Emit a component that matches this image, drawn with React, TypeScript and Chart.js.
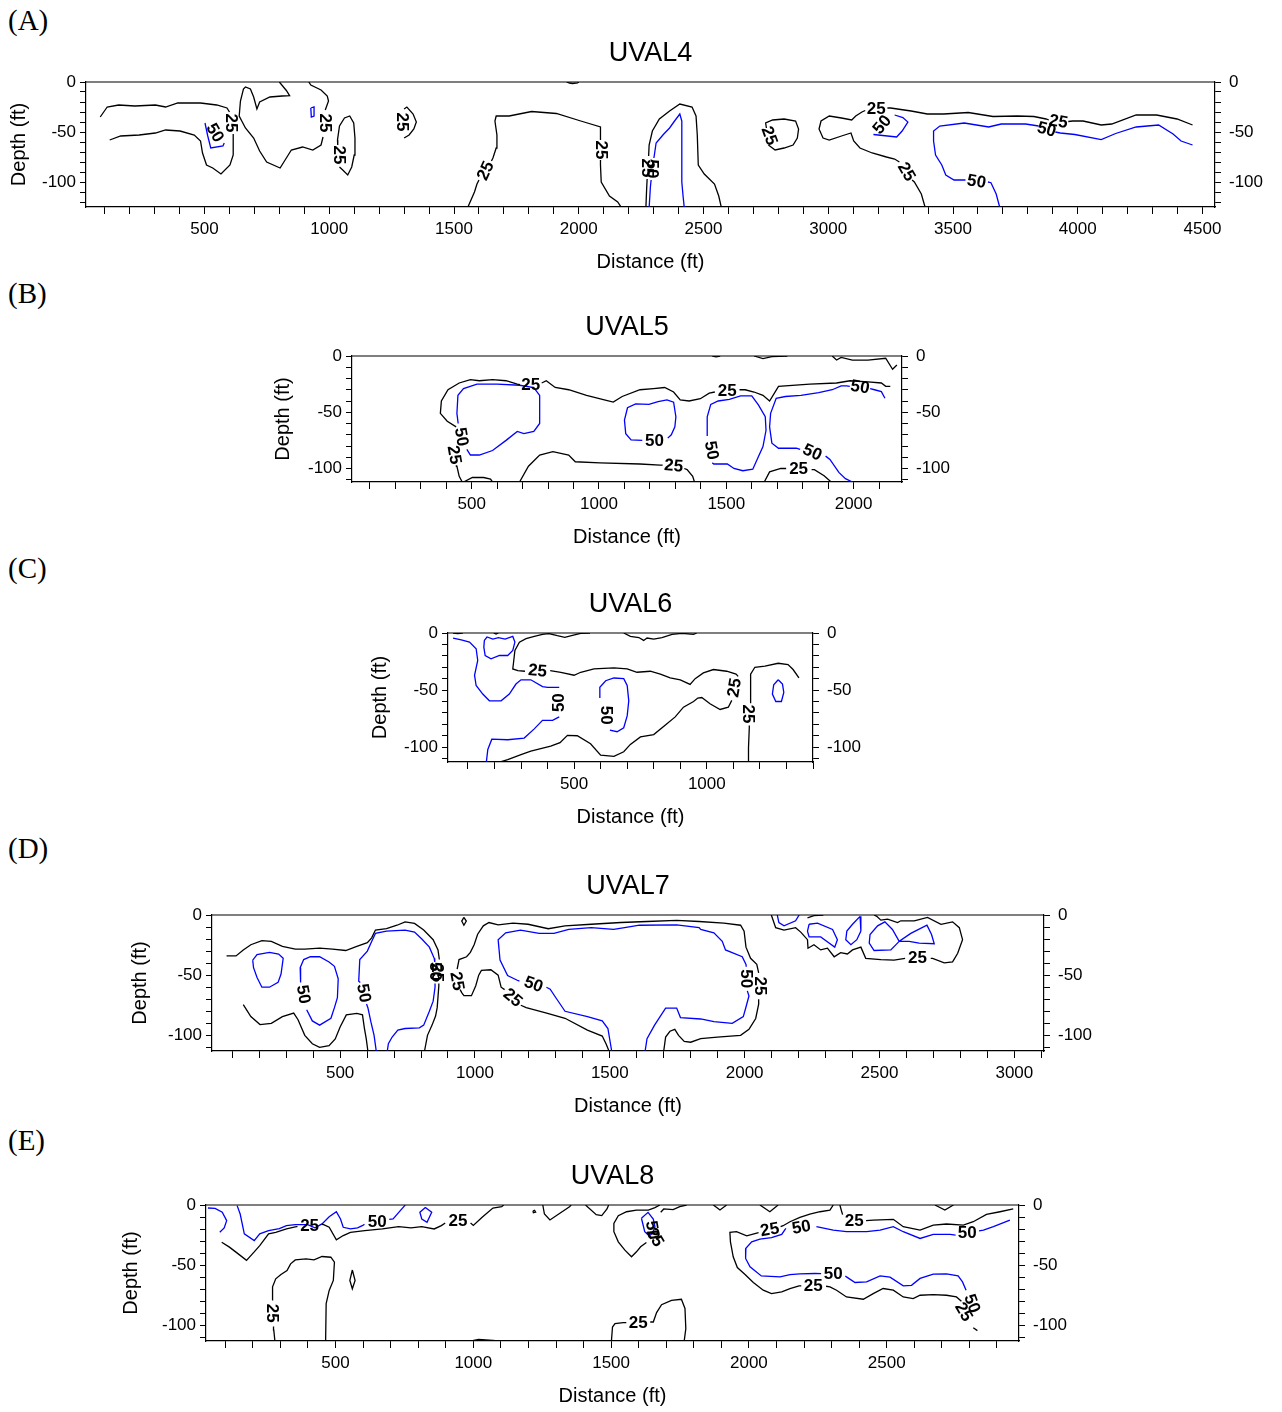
import React, { useEffect, useRef } from 'react';
import { Chart, registerables } from 'chart.js';
Chart.register(...registerables);

type Pt = [number, number];
type Lbl = [number, number, string, number];

// ---------------- Panel A : UVAL4 ----------------
const A_xLabels = [500, 1000, 1500, 2000, 2500, 3000, 3500, 4000, 4500];
const A_c25: Pt[][] = [
  [[82,-35],[110,-25],[156,-23],[221,-24],[303,-23],[344,-25],[393,-21],[484,-21],[549,-23],[590,-26],[600,-30]],
  [[615,-52],[615,-73],[602,-83],[566,-92],[533,-86],[508,-83],[492,-71],[484,-59],[459,-53],[402,-49],[344,-48],[303,-51],[238,-53],[164,-54],[120,-58]],
  [[800,0],[828,-8.5],[841,-13.6],[811,-14],[762,-15],[721,-20],[710,-27],[697,-15],[684,-7],[664,-5],[656,-7],[644,-19],[639,-34],[664,-46],[697,-56],[721,-69],[749,-80],[803,-86],[828,-76],[848,-68],[893,-65],[934,-68],[967,-63],[975,-55]],
  [[984,-28],[997,-19],[992,-14],[967,-8],[926,-3],[918,0]],
  [[1041,-85],[1054,-88],[1074,-93],[1090,-85],[1100,-73],[1103,-56],[1098,-41],[1082,-34],[1061,-36],[1041,-44],[1033,-58],[1034,-63]],
  [[1300,-27],[1311,-25],[1336,-32],[1349,-40],[1339,-47],[1320,-53],[1300,-56]],
  [[1951,0],[1963,-1],[1975,-1.5],[1995,-0.8],[2000,0]],
  [[1554,-126],[1582,-110],[1592,-102],[1600,-98]],
  [[1650,-79],[1656,-76],[1669,-66],[1672,-53],[1664,-39],[1669,-34],[1721,-34],[1811,-29.5],[1910,-31.5],[2008,-39],[2087,-45],[2087,-58]],
  [[2087,-78],[2087,-83],[2090,-100],[2123,-114],[2156,-120],[2172,-126]],
  [[2269,-126],[2272,-107],[2274,-97]],
  [[2280,-74],[2282,-63],[2295,-49],[2323,-37],[2364,-29],[2405,-22],[2454,-25],[2470,-34],[2475,-53],[2479,-83],[2503,-92],[2544,-102],[2561,-114],[2572,-126]],
  [[2760,-63],[2787,-68],[2823,-66],[2859,-63],[2876,-56],[2881,-47],[2869,-39],[2823,-37],[2777,-38],[2749,-41],[2752,-46]],
  [[4460,-43],[4398,-37],[4316,-33],[4234,-33],[4136,-42],[4094,-43],[4021,-39],[3980,-39],[3962,-39.5]],
  [[3884,-38],[3873,-37],[3824,-34.5],[3758,-34],[3660,-34.5],[3561,-30.5],[3463,-32],[3397,-32],[3332,-29],[3250,-26],[3237,-26]],
  [[3148,-28.5],[3135,-30],[3110,-34],[3094,-38],[3053,-36],[3004,-34],[2971,-39],[2963,-47],[2979,-56],[3004,-58],[3053,-54],[3091,-51],[3102,-59],[3127,-66],[3176,-71],[3233,-75],[3266,-77],[3285,-80]],
  [[3336,-98],[3345,-100],[3373,-112],[3389,-126]],
];
const A_c50: Pt[][] = [
  [[502,-41],[513,-54],[525,-66],[574,-64],[579,-61]],
  [[926,-26],[939,-25],[939,-34],[928,-35],[926,-26]],
  [[2282,-126],[2287,-105],[2290,-98]],
  [[2301,-76],[2303,-73],[2310,-61],[2339,-52.5],[2364,-46],[2384,-39],[2405,-32],[2413,-39],[2413,-69],[2413,-100],[2418,-114],[2423,-126]],
  [[3181,-52.5],[3274,-55],[3296,-49],[3319,-40],[3299,-35.6],[3266,-33]],
  [[3688,-126],[3673,-112],[3652,-100.7],[3640,-100]],
  [[3550,-98],[3504,-98],[3471,-93],[3455,-83],[3430,-73],[3422,-59],[3422,-49],[3447,-44],[3545,-41],[3643,-45],[3693,-42],[3791,-42],[3843,-44]],
  [[3910,-50],[3930,-51],[3988,-52.5],[4094,-57.6],[4152,-51.5],[4234,-45],[4324,-43],[4382,-52],[4414,-59],[4460,-63]],
];
const A_labels: Lbl[] = [
  [606,-41,'25',90],[540,-51,'50',60],[980,-41,'25',90],[1038,-73,'25',90],[1292,-40,'25',90],
  [1628,-89,'25',-65],[2087,-68,'25',90],[2274,-86,'25',90],[2292,-87,'50',90],[2762,-54,'25',70],
  [3922,-40,'25',10],[3192,-27,'25',0],[3217,-43,'50',-50],[3312,-90,'25',60],[3594,-100,'50',10],[3875,-48,'50',15],
];

// ---------------- Panel B : UVAL5 ----------------
const B_xLabels = [500, 1000, 1500, 2000];
const B_c25: Pt[][] = [
  [[1445,0],[1460,-0.8],[1476,0]],
  [[1609,0],[1644,-2.4],[1679,-0.6],[1740,0]],
  [[1916,0],[1933,-3.6],[1951,-1.2],[1995,-3.6],[2056,-3.6],[2126,-2],[2153,-11.8],[2170,-8]],
  [[463,-112],[451,-107],[442,-98],[440,-97]],
  [[439,-63],[404,-58],[377,-51],[381,-40],[407,-30],[451,-24],[495,-21],[530,-22],[582,-21],[635,-22],[679,-25],[690,-25.5]],
  [[775,-24],[793,-22],[828,-28],[881,-30],[951,-35],[1021,-39],[1056,-41],[1091,-36],[1161,-30],[1214,-29],[1258,-28],[1293,-32],[1319,-39],[1354,-40],[1398,-38],[1433,-33],[1455,-32]],
  [[1552,-30],[1574,-30],[1609,-32],[1644,-35],[1670,-40],[1705,-27],[1828,-25],[1933,-24],[1986,-22],[2056,-23],[2109,-24],[2126,-27],[2144,-27]],
  [[468,-112],[503,-108],[547,-108],[574,-109.5],[582,-112]],
  [[688,-112],[723,-98],[767,-88],[819,-85],[881,-88],[907,-94],[1004,-95],[1161,-96],[1240,-97],[1250,-97]],
  [[1335,-100],[1346,-101],[1368,-107],[1375,-112]],
  [[1649,-112],[1670,-103],[1714,-100],[1735,-100]],
  [[1835,-101],[1846,-101],[1884,-106.5],[1912,-112]],
];
const B_c50: Pt[][] = [
  [[447,-60],[442,-51],[446,-35],[468,-29],[521,-25],[600,-25],[688,-26],[744,-28],[767,-35],[767,-60],[744,-67],[705,-69],[679,-67],[635,-75],[582,-84],[530,-88],[495,-88],[481,-83]],
  [[1170,-75],[1126,-74.5],[1105,-69],[1100,-57],[1112,-46],[1144,-42.6],[1196,-43],[1232,-40.5],[1267,-39],[1293,-41],[1302,-54],[1298,-63],[1284,-70],[1270,-73]],
  [[1425,-71],[1425,-54],[1439,-43],[1468,-40],[1512,-38.5],[1556,-35.5],[1600,-35.5],[1626,-43.5],[1653,-54],[1656,-66],[1644,-80.5],[1621,-92],[1604,-100.6],[1565,-102],[1530,-100],[1504,-96],[1451,-96],[1445,-95]],
  [[1995,-112],[1968,-109],[1942,-103.5],[1907,-92],[1890,-89]],
  [[1790,-83],[1775,-82],[1705,-82],[1679,-77.5],[1670,-63],[1674,-51],[1696,-37.6],[1732,-36],[1793,-35],[1863,-32.5],[1916,-30],[1951,-26.6],[1972,-26.6],[1985,-27]],
  [[2065,-29],[2082,-30],[2109,-31.7],[2123,-37.6]],
];
const B_labels: Lbl[] = [
  [430,-88,'25',80],[458,-72,'50',80],[732,-26,'25',0],[1504,-31,'25',0],[1293,-98,'25',5],
  [1784,-101,'25',0],[1218,-76,'50',0],[1440,-84,'50',80],[1837,-86,'50',25],[2025,-28,'50',10],
];

// ---------------- Panel C : UVAL6 ----------------
const C_xLabels = [500, 1000];
const C_c25: Pt[][] = [
  [[44,0],[62,-0.6],[81,0]],
  [[197,0],[206,-0.9],[215,0]],
  [[560,0],[525,-0.3],[494,-2],[465,-3.8],[437,-2.4],[405,-0.5],[381,-1.2],[350,-3],[319,-5],[294,-8],[277,-15.3],[272,-25.6],[269,-31.5],[288,-33],[315,-33.5]],
  [[410,-33],[450,-34.4],[500,-37],[525,-34.4],[575,-31.5],[650,-30.6],[700,-31.5],[737,-34.4],[787,-33.5],[825,-36],[862,-39.4],[900,-41],[937,-45],[956,-40],[987,-35],[1025,-32],[1075,-33.5],[1110,-36],[1118,-38]],
  [[1094,-59],[1081,-65],[1050,-67],[1012,-62],[981,-56.5],[966,-57],[950,-60],[912,-65],[881,-73.5],[844,-80.6],[800,-89],[750,-91],[712,-97.6],[687,-104],[650,-108],[600,-107],[562,-97],[512,-90],[475,-89.7],[447,-96],[412,-99],[337,-103.5],[300,-106.5],[250,-111],[206,-114]],
  [[687,0],[712,-3],[744,-4],[762,-6.5],[775,-4.4],[800,-5.3],[831,-4],[869,-1.2],[906,-0.3],[950,-1.2],[962,0]],
  [[1156,-114],[1157,-100.6],[1160,-83],[1160,-81]],
  [[1163,-61],[1165,-59],[1165,-36],[1181,-30],[1219,-29],[1269,-26.5],[1306,-27.6],[1325,-32],[1347,-39.4]],
];
const C_c50: Pt[][] = [
  [[44,-4.4],[75,-6],[106,-8],[131,-13.8],[137,-24],[125,-37],[131,-46],[156,-53.5],[181,-59.4],[225,-59.4],[256,-53.5],[281,-44.7],[300,-41],[337,-41],[381,-47],[400,-47.6],[444,-47.6]],
  [[162,-6.5],[172,-3.5],[194,-5.3],[215,-4],[240,-5.3],[269,-3],[277,-8],[269,-15.3],[250,-19.7],[219,-19.7],[187,-22.6],[165,-19.7],[160,-12.4],[162,-6.5]],
  [[169,-114],[175,-102],[190,-93],[250,-93.5],[312,-92],[350,-84],[381,-76.5],[419,-76.5],[444,-73.5]],
  [[635,-85],[662,-86.5],[687,-83],[700,-72.6],[706,-59.4],[700,-46],[687,-40],[650,-39.4],[619,-41.8],[597,-47.6],[597,-57]],
  [[1269,-41],[1285,-44.7],[1290,-52],[1281,-60],[1260,-60],[1247,-53.5],[1252,-45.3],[1269,-41]],
];
const C_labels: Lbl[] = [
  [362,-33.5,'25',5],[1106,-48,'25',-80],[1154,-71,'25',90],[446,-61,'50',-90],[619,-72,'50',90],
];

// ---------------- Panel D : UVAL7 ----------------
const D_xLabels = [500, 1000, 1500, 2000, 2500, 3000];
const D_c25: Pt[][] = [
  [[79,-34],[114,-34],[141,-29],[169,-24.7],[210,-21.3],[245,-21.9],[286,-26],[334,-28.4],[369,-28.4],[424,-27.6],[472,-28.4],[521,-29.5],[562,-26],[601,-23],[617,-19],[631,-12.5],[672,-11.4],[711,-8.5],[741,-5.7],[776,-7],[810,-12.5],[845,-20.5],[863,-29],[868,-37]],
  [[866,-57],[866,-59],[860,-77],[854,-84],[841,-91.5],[824,-100],[813,-113]],
  [[141,-74.4],[169,-84.4],[203,-91],[245,-90],[286,-84.4],[328,-81.5],[344,-87],[369,-100],[397,-107],[424,-110],[459,-108.5],[482,-103],[500,-93],[523,-83],[562,-81.8],[583,-83],[590,-94],[597,-103],[603,-113]],
  [[959,-2],[968,-5.1],[959,-8.5],[951,-5.1],[959,-2]],
  [[1497,-113],[1486,-107],[1472,-100.6],[1417,-95.7],[1334,-85.8],[1266,-81.5],[1190,-77],[1170,-75]],
  [[1110,-62],[1097,-60],[1086,-50],[1059,-45.5],[1024,-46],[1014,-50],[1003,-58.8],[987,-67],[959,-67],[951,-64.5],[945,-62]],
  [[934,-45],[941,-37],[969,-34.7],[983,-31],[997,-24.7],[1010,-16],[1031,-9],[1052,-6.25],[1086,-8.2],[1141,-6.8],[1197,-7.7],[1272,-11.4],[1334,-9],[1431,-7.7],[1541,-6.25],[1638,-5.4],[1748,-4.5],[1831,-5.4],[1923,-6.8],[1985,-8.5],[1998,-13.4],[2005,-26.7],[2022,-36],[2045,-41],[2052,-48]],
  [[2052,-70],[2052,-74],[2041,-86],[2016,-95],[1985,-100],[1948,-100.6],[1899,-101.4],[1837,-102.8],[1800,-105.7],[1776,-105],[1755,-100],[1741,-95],[1723,-96.6],[1707,-101.4],[1700,-113]],
  [[2099,0],[2115,-10.5],[2146,-12.5],[2189,-10.5],[2208,-14.2],[2233,-20.5],[2235,-27.6],[2257,-24.7],[2282,-29],[2307,-27.6],[2332,-34.7],[2356,-31.25],[2381,-32.4],[2400,-29],[2431,-26.7],[2449,-36],[2505,-37],[2554,-37.5],[2595,-36]],
  [[2690,-36],[2697,-36],[2740,-39.8],[2771,-39],[2790,-31.8],[2808,-20.5],[2796,-10.5],[2771,-5.7],[2728,-7.7],[2678,-2],[2629,-4.8],[2579,-4.8],[2567,-6.25],[2530,-3.4],[2505,-4.3],[2490,-1.1],[2480,0]],
  [[2233,-2.3],[2257,-0.6],[2292,0]],
];
const D_c50: Pt[][] = [
  [[176,-37.5],[192,-33],[238,-31],[272,-32.4],[289,-36],[281,-49],[270,-56],[238,-60],[210,-60],[192,-52],[179,-43.8],[176,-37.5]],
  [[376,-78.7],[397,-88],[424,-91.5],[466,-85.8],[479,-77],[490,-68.75],[493,-53],[479,-42.6],[459,-39],[424,-34.7],[390,-34.7],[365,-37],[352,-43.75],[352,-53],[355,-56]],
  [[634,-113],[626,-100],[614,-88.6],[603,-77],[598,-74]],
  [[575,-56],[569,-55],[573,-37],[601,-30],[617,-22],[631,-15.3],[672,-13.4],[741,-12.5],[776,-14.2],[803,-20],[831,-26.7],[849,-36],[851,-39]],
  [[852,-57],[852,-60],[845,-71.6],[831,-80],[810,-91.5],[794,-93.75],[741,-94.3],[714,-95.7],[693,-101.4],[679,-107],[675,-113]],
  [[1507,-113],[1493,-94.3],[1472,-88],[1417,-84.4],[1334,-80],[1300,-68.75],[1279,-61.6],[1265,-60]],
  [[1165,-55],[1155,-54],[1121,-50.3],[1093,-37.5],[1086,-20.5],[1114,-14.8],[1169,-12.5],[1238,-15.3],[1293,-15.3],[1348,-12],[1431,-10.5],[1514,-12],[1555,-10.5],[1610,-8.5],[1748,-8.2],[1831,-10.5],[1837,-12],[1886,-14.8],[1917,-21.9],[1929,-29],[1991,-34.7],[2005,-41],[2006,-43]],
  [[2010,-63],[2016,-67.3],[2004,-77.3],[1995,-84.4],[1954,-90],[1886,-88.6],[1837,-86.4],[1762,-85.2],[1748,-77.3],[1707,-77.3],[1666,-91.5],[1638,-102.8],[1631,-113]],
  [[2121,0],[2127,-6.25],[2146,-9],[2189,-4.8],[2202,0]],
  [[2239,-7.7],[2270,-6.8],[2326,-12],[2344,-20.5],[2334,-26.7],[2313,-23.3],[2282,-18.2],[2239,-18.2],[2233,-13.4],[2239,-7.7]],
  [[2428,-1.1],[2431,-13.4],[2416,-20.5],[2394,-24.7],[2375,-20.5],[2379,-13.4],[2400,-7.7],[2428,-1.1]],
  [[2573,-21.9],[2542,-29],[2480,-29.5],[2462,-23.3],[2465,-16.2],[2493,-9],[2520,-5.7],[2548,-12],[2573,-21.9],[2616,-15.3],[2676,-8.5],[2693,-16.2],[2703,-23.9],[2647,-23.3],[2610,-21.9],[2573,-21.9]],
];
const D_labels: Lbl[] = [
  [850,-47,'50',90],[857,-48,'25',90],[362,-66,'50',80],[586,-65,'50',80],[932,-55,'25',80],
  [1139,-69,'25',40],[1217,-58,'50',20],[2005,-53,'50',90],[2054,-59,'25',90],[2641,-36,'25',0],
];

// ---------------- Panel E : UVAL8 ----------------
const E_xLabels = [500, 1000, 1500, 2000, 2500];
const E_c25: Pt[][] = [
  [[87,-31],[115,-35],[147,-40.6],[177,-46],[205,-39],[225,-33.7],[257,-24],[283,-22.7],[322,-19.9],[358,-18],[362,-18]],
  [[450,-16],[457,-16.3],[477,-18.5],[503,-29],[528,-25.4],[554,-22.7],[606,-21.3],[670,-19.9],[696,-19],[729,-18],[774,-19],[813,-18],[858,-19.9],[884,-17.1],[898,-15]],
  [[990,-15],[1000,-17],[1032,-10.2],[1071,-2.5],[1103,-1.4],[1110,0]],
  [[280,-113],[276,-104],[275,-101]],
  [[271,-79],[270,-76],[273,-68],[283,-61.3],[302,-57.7],[324,-54.4],[337,-48.9],[354,-45.6],[393,-44.8],[422,-45.6],[451,-42.8],[483,-43.4],[496,-47.5],[492,-62.7],[477,-71],[466,-82],[464,-113.8]],
  [[561,-54],[571,-62.7],[561,-69.6],[552,-62.7],[561,-54]],
  [[974,-113.8],[1019,-111.6],[1071,-112.4],[1110,-113.3]],
  [[1216,-5],[1222,-4.5],[1226,-6],[1218,-6.5],[1216,-5]],
  [[1252,0],[1258,-7.5],[1278,-12.4],[1310,-7.5],[1349,-1.4],[1355,0]],
  [[1407,0],[1446,-8],[1466,-8.8],[1485,-3.3],[1491,0]],
  [[1628,-31.1],[1607,-34.7],[1592,-38.9],[1574,-43],[1550,-37.5],[1526,-30.6],[1510,-22.2],[1510,-15.3],[1526,-8.9],[1556,-5.6],[1592,-4.2],[1635,-4.2],[1659,-2.2],[1677,0]],
  [[1680,-6],[1691,-3.3],[1725,-3.9],[1749,-1.4],[1774,0]],
  [[1501,-113.3],[1505,-101.4],[1514,-98.6],[1544,-97.8],[1555,-97.8]],
  [[1642,-97.2],[1653,-97.2],[1665,-89.4],[1683,-82.8],[1719,-79.2],[1755,-78.3],[1768,-86],[1771,-102.8],[1765,-113.3]],
  [[1871,0],[1895,-4.2],[1919,0]],
  [[2040,0],[2076,-5.6],[2106,0]],
  [[2675,0],[2711,-4.2],[2742,0]],
  [[2306,0],[2294,-4.2],[2258,-5.6],[2221,-7.5],[2185,-10.3],[2149,-13.9],[2124,-17.2],[2115,-18]],
  [[2035,-23],[2025,-23.6],[1992,-25.6],[1955,-22.2],[1931,-22.8],[1933,-30.6],[1943,-43],[1958,-52],[1986,-57.8],[2016,-64.4],[2052,-70.8],[2082,-73.6],[2119,-72.2],[2149,-69.4],[2182,-67.2],[2190,-67.2]],
  [[2280,-67.5],[2294,-68],[2318,-70.8],[2354,-76.4],[2415,-78.3],[2451,-73.6],[2487,-69.4],[2524,-70.8],[2560,-76.4],[2596,-77.8],[2621,-75],[2669,-74.4],[2717,-75],[2753,-76.4],[2771,-80]],
  [[2814,-102],[2829,-104.4]],
  [[2330,0],[2336,-5],[2340,-8]],
  [[2425,-13],[2451,-12.5],[2524,-11.9],[2560,-18],[2621,-20.8],[2669,-16.7],[2717,-15.8],[2778,-16.7],[2814,-13.9],[2862,-7.8],[2911,-5.6],[2959,-3.3]],
];
const E_c50: Pt[][] = [
  [[37,-2.5],[63,-2.8],[89,-6],[105,-13],[96,-19],[80,-22.7]],
  [[143,-0.5],[154,-7.5],[169,-24],[205,-29.6],[225,-24],[257,-21.3],[296,-19.6],[322,-17.1],[354,-16.3],[399,-16.3],[425,-19],[451,-15.7],[477,-9.7],[503,-5.5],[518,-11.6],[528,-18.5],[554,-19.9],[580,-19],[599,-17],[605,-16]],
  [[695,-12],[709,-11.6],[735,-4.7],[751,-0.5],[753,0]],
  [[826,-2],[849,-6],[832,-14.4],[813,-11.6],[806,-6],[826,-2]],
  [[1610,-11],[1634,-6.1],[1653,-11.7],[1659,-18],[1650,-23.6],[1638,-25.6],[1622,-22.2],[1610,-11]],
  [[2134,-19.4],[2119,-24.4],[2082,-27.2],[2040,-28.3],[2010,-30.6],[1989,-36],[1988,-44.4],[2004,-51.4],[2045,-58.9],[2113,-59.7],[2149,-57.8],[2185,-57.2],[2240,-56.9],[2262,-57]],
  [[2350,-59],[2354,-59.7],[2385,-64.4],[2427,-63.9],[2476,-58.9],[2512,-60],[2560,-67.2],[2590,-66.7],[2621,-61],[2669,-57.5],[2717,-57.2],[2759,-58.9],[2775,-63.9],[2788,-70.8]],
  [[2245,-18],[2306,-20.8],[2354,-22.2],[2427,-22.2],[2476,-20.8],[2524,-18],[2560,-22.2],[2621,-27.8],[2669,-24.4],[2730,-24.4],[2750,-25]],
  [[2835,-21.5],[2851,-20.8],[2887,-18],[2947,-12.5]],
];
const E_labels: Lbl[] = [
  [406,-18,'25',0],[651,-14.4,'50',0],[944,-13.5,'25',0],[267,-90,'25',90],
  [1648,-21,'50',80],[1658,-27,'25',60],[1598,-98.6,'25',0],[2076,-20.8,'25',-10],[2191,-18.9,'50',-10],
  [2233,-67.2,'25',0],[2306,-57.8,'50',0],[2382,-13.3,'25',0],[2792,-23.6,'50',0],[2778,-89,'25',60],[2808,-82,'50',70],
];

// ---------------- layout (not data) ----------------
interface PanelCfg {
  letter: string; letterY: number; title: string;
  L: number; R: number; T: number; B: number; leftW: number;
  xMin: number; xMax: number; yMin: number; xTickMax: number;
  xLabels: number[]; c25: Pt[][]; c50: Pt[][]; labels: Lbl[];
}

const PANELS: PanelCfg[] = [
  { letter: '(A)', letterY: 20, title: 'UVAL4', L: 86, R: 1215, T: 82, B: 207, leftW: 79, xMin: 25, xMax: 4550, yMin: -125, xTickMax: 4500, xLabels: A_xLabels, c25: A_c25, c50: A_c50, labels: A_labels },
  { letter: '(B)', letterY: 293, title: 'UVAL5', L: 352, R: 902, T: 356, B: 482, leftW: 81, xMin: 30, xMax: 2190, yMin: -112, xTickMax: 2100, xLabels: B_xLabels, c25: B_c25, c50: B_c50, labels: B_labels },
  { letter: '(C)', letterY: 568, title: 'UVAL6', L: 448, R: 813, T: 633, B: 762, leftW: 80, xMin: 25, xMax: 1400, yMin: -113, xTickMax: 1400, xLabels: C_xLabels, c25: C_c25, c50: C_c50, labels: C_labels },
  { letter: '(D)', letterY: 848, title: 'UVAL7', L: 212, R: 1044, T: 915, B: 1051, leftW: 84, xMin: 25, xMax: 3110, yMin: -113, xTickMax: 3100, xLabels: D_xLabels, c25: D_c25, c50: D_c50, labels: D_labels },
  { letter: '(E)', letterY: 1140, title: 'UVAL8', L: 206, R: 1019, T: 1205, B: 1341, leftW: 87, xMin: 30, xMax: 2980, yMin: -113, xTickMax: 2900, xLabels: E_xLabels, c25: E_c25, c50: E_c50, labels: E_labels },
];

const SANS = '"Liberation Sans", Arial, sans-serif';
const TOP_PAD = 50;
const BOTTOM_H = 67;
const RIGHT_W = 60;

function Panel({ cfg }: { cfg: PanelCfg }) {
  const ref = useRef<HTMLCanvasElement>(null);
  const width = cfg.leftW + (cfg.R - cfg.L) + RIGHT_W;
  const height = TOP_PAD + (cfg.B - cfg.T) + BOTTOM_H;

  useEffect(() => {
    if (!ref.current) return;
    const mk = (lines: Pt[][], color: string) => lines.map((line) => ({
      data: line.map(([x, y]) => ({ x, y })),
      showLine: true, borderColor: color, backgroundColor: color,
      borderWidth: 1.3, pointRadius: 0, tension: 0, fill: false,
    }));
    const datasets = [...mk(cfg.c25, '#000000'), ...mk(cfg.c50, '#0000ff')];

    const xTicks: number[] = [];
    for (let v = 100; v <= cfg.xTickMax; v += 100) xTicks.push(v);
    const yTicks: number[] = [];
    for (let v = 0; v >= cfg.yMin; v -= 10) yTicks.push(v);
    const yLabels = [0, -50, -100];

    const overlay = {
      id: 'overlay',
      afterDatasetsDraw(chart: any) {
        const { ctx, chartArea: ca } = chart;
        const xs = chart.scales.x, ys = chart.scales.y;
        ctx.save();
        ctx.fillStyle = '#000';
        ctx.textAlign = 'center';
        ctx.textBaseline = 'middle';
        ctx.font = 'bold 17px ' + SANS;
        for (const [lx, ly, t, ang] of cfg.labels) {
          ctx.save();
          ctx.translate(xs.getPixelForValue(lx), ys.getPixelForValue(ly));
          ctx.rotate((ang * Math.PI) / 180);
          ctx.fillText(t, 0, 0);
          ctx.restore();
        }
        ctx.strokeStyle = '#000';
        ctx.lineWidth = 1.2;
        ctx.beginPath();
        ctx.moveTo(ca.left, ca.top);
        ctx.lineTo(ca.right, ca.top);
        ctx.stroke();
        ctx.font = '27px ' + SANS;
        ctx.fillText(cfg.title, (ca.left + ca.right) / 2, ca.top - 28);
        ctx.restore();
      },
    };

    const yAxis = (pos: 'left' | 'right', w: number, pad: number, title: boolean) => ({
      type: 'linear', position: pos, min: cfg.yMin, max: 0, bounds: 'data',
      afterBuildTicks: (s: any) => { s.ticks = yTicks.map((v) => ({ value: v })); },
      afterFit: (s: any) => { s.width = w; },
      ticks: {
        autoSkip: false, color: '#000', padding: pad,
        font: { family: SANS, size: 17 },
        callback: (v: any) => (yLabels.includes(Number(v)) ? String(v) : ''),
      },
      grid: { drawOnChartArea: false, drawTicks: true, tickLength: 6, color: '#000', lineWidth: 1 },
      border: { display: true, color: '#000', width: 1.2 },
      title: title
        ? { display: true, text: 'Depth (ft)', color: '#000', font: { family: SANS, size: 20 }, padding: { top: 0, bottom: 0 } }
        : { display: false },
    });

    const chart = new Chart(ref.current, {
      type: 'scatter',
      data: { datasets: datasets as any },
      options: {
        responsive: false,
        maintainAspectRatio: false,
        animation: false,
        devicePixelRatio: 1,
        events: [],
        layout: { padding: { top: TOP_PAD, left: 0, right: 0, bottom: 0 } },
        plugins: { legend: { display: false }, tooltip: { enabled: false }, title: { display: false } },
        scales: {
          x: {
            type: 'linear', position: 'bottom', min: cfg.xMin, max: cfg.xMax, bounds: 'data',
            afterBuildTicks: (s: any) => { s.ticks = xTicks.map((v) => ({ value: v })); },
            afterFit: (s: any) => { s.height = BOTTOM_H; },
            ticks: {
              autoSkip: false, maxRotation: 0, minRotation: 0, color: '#000', padding: 5,
              font: { family: SANS, size: 17 },
              callback: (v: any) => (cfg.xLabels.includes(Number(v)) ? String(v) : ''),
            },
            grid: { drawOnChartArea: false, drawTicks: true, tickLength: 7, color: '#000', lineWidth: 1 },
            border: { display: true, color: '#000', width: 1.2 },
            title: { display: true, text: 'Distance (ft)', color: '#000', font: { family: SANS, size: 20 }, padding: { top: 0, bottom: 0 } },
          },
          y: yAxis('left', cfg.leftW, 4, true),
          y2: yAxis('right', RIGHT_W, 8, false),
        } as any,
      },
      plugins: [overlay],
    });
    return () => chart.destroy();
  }, [cfg]);

  return (
    <>
      <div
        style={{
          position: 'absolute', left: 8, top: cfg.letterY - 15, fontFamily: '"Liberation Serif", "Times New Roman", serif',
          fontSize: 29, lineHeight: '30px', color: '#000', whiteSpace: 'nowrap',
        }}
      >
        {cfg.letter}
      </div>
      <canvas
        ref={ref}
        width={width}
        height={height}
        style={{ position: 'absolute', left: cfg.L - cfg.leftW, top: cfg.T - TOP_PAD, width, height }}
      />
    </>
  );
}

export default function App() {
  return (
    <div style={{ position: 'absolute', left: 0, top: 0 }}>
      {PANELS.map((p) => (
        <Panel key={p.title} cfg={p} />
      ))}
    </div>
  );
}
